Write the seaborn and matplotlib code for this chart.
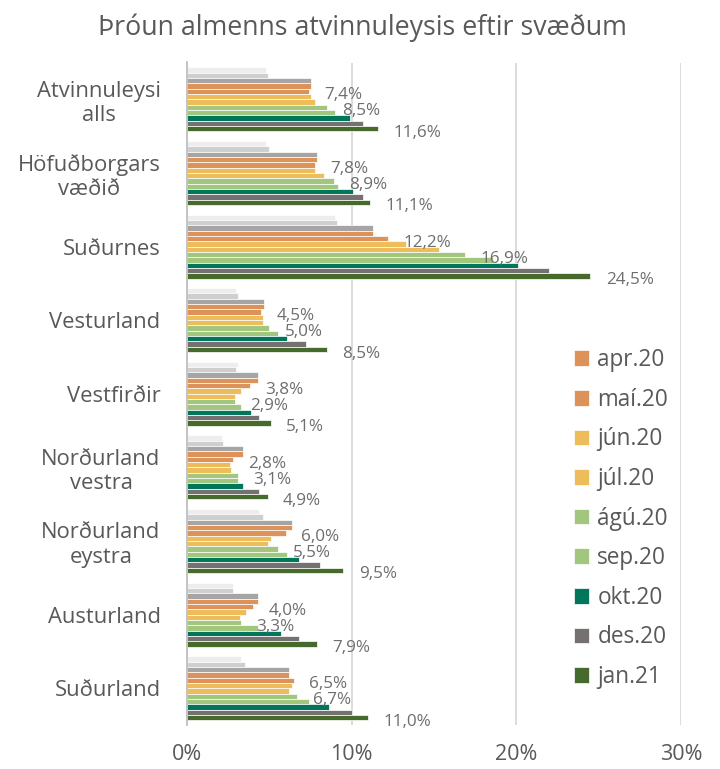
import matplotlib
matplotlib.use("Agg")
import matplotlib.pyplot as plt
import seaborn as sns
import pandas as pd
from matplotlib.ticker import FuncFormatter

regions = ["Atvinnuleysi\nalls", "Höfuðborgars\nvæðið", "Suðurnes", "Vesturland",
           "Vestfirðir", "Norðurland\nvestra", "Norðurland\neystra", "Austurland", "Suðurland"]
months = ["jan.20", "feb.20", "mar.20", "apr.20", "maí.20", "jún.20", "júl.20",
          "ágú.20", "sep.20", "okt.20", "des.20", "jan.21"]
legend_months = ["apr.20", "maí.20", "jún.20", "júl.20", "ágú.20", "sep.20", "okt.20", "des.20", "jan.21"]
labelled_months = ["maí.20", "ágú.20", "jan.21"]

jan20 = [4.8, 4.8, 9.0, 3.0, 3.1, 2.1, 4.4, 2.8, 3.3]
feb20 = [4.9, 5.0, 9.1, 3.1, 3.0, 2.2, 4.6, 2.8, 3.5]
mar20 = [7.5, 7.9, 11.3, 4.7, 4.3, 3.4, 6.4, 4.3, 6.2]
apr20 = [7.5, 7.9, 11.3, 4.7, 4.3, 3.4, 6.4, 4.3, 6.2]
mai20 = [7.4, 7.8, 12.2, 4.5, 3.8, 2.8, 6.0, 4.0, 6.5]
jun20 = [7.5, 7.8, 13.3, 4.6, 3.3, 2.6, 5.1, 3.6, 6.4]
jul20 = [7.8, 8.3, 15.3, 4.6, 2.9, 2.7, 4.9, 3.2, 6.2]
agu20 = [8.5, 8.9, 16.9, 5.0, 2.9, 3.1, 5.5, 3.3, 6.7]
sep20 = [9.0, 9.2, 18.6, 5.5, 3.3, 3.1, 6.1, 4.3, 7.4]
okt20 = [9.9, 10.1, 20.1, 6.1, 3.9, 3.4, 6.8, 5.7, 8.6]
des20 = [10.7, 10.7, 22.0, 7.2, 4.4, 4.4, 8.1, 6.8, 10.0]
jan21 = [11.6, 11.1, 24.5, 8.5, 5.1, 4.9, 9.5, 7.9, 11.0]

series = [jan20, feb20, mar20, apr20, mai20, jun20, jul20, agu20, sep20, okt20, des20, jan21]
colors = ["#EDEDED", "#CFCFCF", "#A5A5A5", "#DC9259", "#DC9259", "#EDBD5C", "#EDBD5C",
          "#A3C67F", "#A3C67F", "#00775B", "#767171", "#456A2C"]

rows = []
for m, vals in zip(months, series):
    for r, v in zip(regions, vals):
        rows.append({"region": r, "month": m, "value": v})
df = pd.DataFrame(rows)

plt.rcParams["font.family"] = ["Open Sans", "DejaVu Sans"]
text_color = "#595959"

fig = plt.figure(figsize=(7.2, 7.69), dpi=100)
ax = fig.add_axes([187 / 720, 1 - 725 / 769, (681 - 187) / 720, (725 - 62.5) / 769])

sns.barplot(data=df, x="value", y="region", hue="month", order=regions, hue_order=months,
            palette=colors, orient="h", width=0.87, dodge=True, ax=ax,
            edgecolor="white", linewidth=0.5, saturation=1, errorbar=None)

ax.set_xlim(0, 30)
ax.set_ylim(len(regions) - 0.5, -0.5)
ax.set_xticks([0, 10, 20, 30])
ax.xaxis.set_major_formatter(FuncFormatter(lambda v, p: f"{v:.0f}%"))
ax.grid(axis="x", color="#D9D9D9", linewidth=1.3)
ax.set_axisbelow(True)
for s in ["top", "right", "bottom"]:
    ax.spines[s].set_visible(False)
ax.spines["left"].set_color("#BFBFBF")
ax.spines["left"].set_linewidth(1.3)
ax.tick_params(axis="x", length=0, pad=14, labelsize=15.5, labelcolor=text_color)
ax.tick_params(axis="y", length=0, pad=19, labelsize=15.8, labelcolor=text_color)
for lab in ax.get_yticklabels():
    lab.set_multialignment("center")
ax.set_xlabel("")
ax.set_ylabel("")

# data labels
for m, cont in zip(months, ax.containers):
    if m in labelled_months:
        for rect in cont:
            w = rect.get_width()
            yc = rect.get_y() + rect.get_height() / 2
            ax.annotate(f"{w:.1f}%".replace(".", ","), xy=(w, yc), xytext=(11, -3),
                        textcoords="offset points", ha="left", va="center",
                        fontsize=12.3, color="#6E6E6E")

handles, labels = ax.get_legend_handles_labels()
lg = ax.get_legend()
if lg is not None:
    lg.remove()
hmap = dict(zip(labels, handles))
leg = fig.legend([hmap[m] for m in legend_months], legend_months,
                 loc="upper left", bbox_to_anchor=(565 / 720, 1 - 339 / 769),
                 frameon=False, fontsize=16.3, labelcolor=text_color,
                 handlelength=0.68, handleheight=0.68, handletextpad=0.35,
                 labelspacing=0.69, borderaxespad=0)

fig.text(0.503, 1 - 28 / 769, "Þróun almenns atvinnuleysis eftir svæðum",
         ha="center", va="center", fontsize=19.3, color=text_color)

fig.savefig("out.png", dpi=100)
